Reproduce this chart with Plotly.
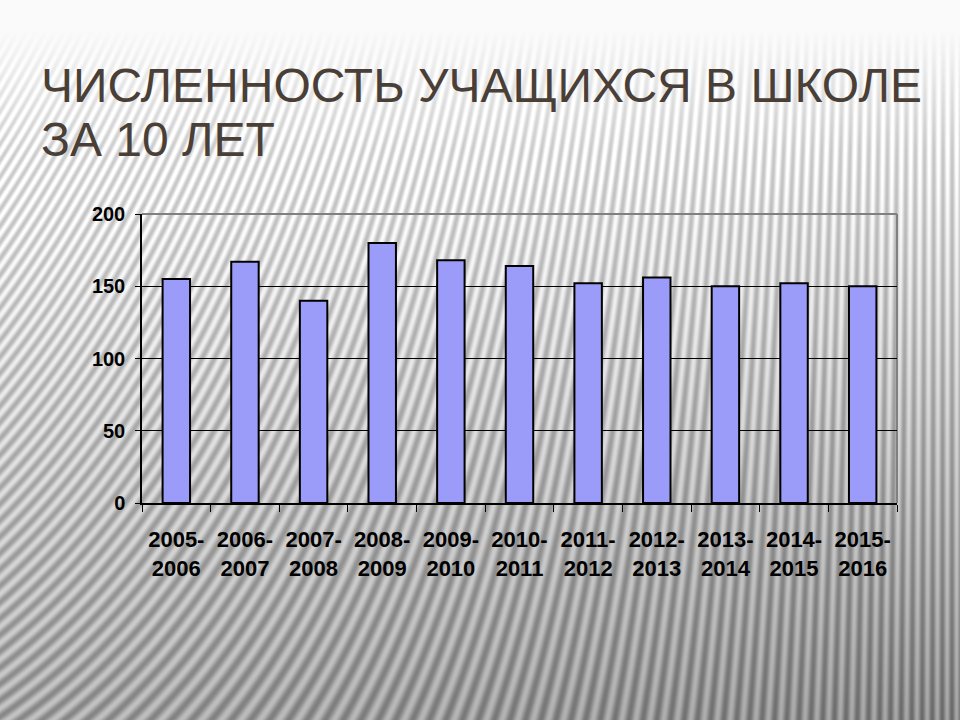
import base64
import struct
import zlib

import numpy as np
import plotly.graph_objects as go

categories = ["2005-<br>2006", "2006-<br>2007", "2007-<br>2008", "2008-<br>2009", "2009-<br>2010",
              "2010-<br>2011", "2011-<br>2012", "2012-<br>2013", "2013-<br>2014", "2014-<br>2015",
              "2015-<br>2016"]
students = [155, 167, 140, 180, 168, 164, 152, 156, 150, 152, 150]
y_ticks = [0, 50, 100, 150, 200]

title_line1 = "ЧИСЛЕННОСТЬ УЧАЩИХСЯ В ШКОЛЕ"
title_line2 = "ЗА 10 ЛЕТ"

W, H = 960, 720
ML, MR, MT, MB = 142, 63, 214, 217


def striped_background(w, h):
    yy, xx = np.mgrid[0:h, 0:w].astype(float)
    fy = np.clip((yy - 30) / (h - 30), 0, 1)
    base = 250 - 85 * fy - 30 * fy * (xx / w)
    k = 0.55 * (1 - xx / w) ** 1.5
    phase = (xx + k * yy) * 2 * np.pi / 9.0
    amp = 30 * np.clip((yy - 30) / 120, 0, 1)
    img = np.clip(base + amp * np.sin(phase), 0, 255).astype(np.uint8)
    raw = b"".join(b"\x00" + img[r].tobytes() for r in range(h))

    def chunk(tag, data):
        c = struct.pack(">I", len(data)) + tag + data
        return c + struct.pack(">I", zlib.crc32(tag + data) & 0xFFFFFFFF)

    png = b"\x89PNG\r\n\x1a\n" + chunk(b"IHDR", struct.pack(">IIBBBBB", w, h, 8, 0, 0, 0, 0))
    png += chunk(b"IDAT", zlib.compress(raw, 9)) + chunk(b"IEND", b"")
    return "data:image/png;base64," + base64.b64encode(png).decode()


pw = W - ML - MR
ph = H - MT - MB

fig = go.Figure()
fig.add_trace(go.Bar(
    x=categories, y=students,
    marker=dict(color="#9b9bf9", line=dict(color="black", width=2)),
    showlegend=False,
))

narrow = "Liberation Sans Narrow, Arial Narrow, Liberation Sans, Arial, sans-serif"
title_font = dict(family="Liberation Sans, Arial, sans-serif", size=48, color="#4a3f37")

fig.update_layout(
    width=W, height=H,
    margin=dict(l=ML, r=MR, t=MT, b=MB),
    paper_bgcolor="#d2d2d2",
    plot_bgcolor="rgba(0,0,0,0)",
    bargap=0.6,
    images=[dict(source=striped_background(W, H), xref="paper", yref="paper",
                 x=-ML / pw, y=1 + MT / ph, sizex=W / pw, sizey=H / ph,
                 xanchor="left", yanchor="top", sizing="stretch", layer="below")],
    xaxis=dict(
        type="category", showgrid=False, tickangle=0,
        showline=True, linecolor="black", linewidth=1.5,
        ticks="outside", tickson="boundaries", ticklen=7, tickcolor="black", tickwidth=1,
        ticklabelstandoff=16,
        tickfont=dict(family=narrow, size=22, color="black", weight="bold"),
    ),
    yaxis=dict(
        range=[0, 200], tickvals=y_ticks,
        showgrid=True, gridcolor="black", gridwidth=1.2,
        showline=True, linecolor="black", linewidth=1.5,
        ticks="outside", ticklen=5, tickcolor="black",
        ticklabelstandoff=6,
        tickfont=dict(family=narrow, size=20, color="black", weight="bold"),
        zeroline=False,
    ),
    shapes=[
        dict(type="line", xref="paper", yref="paper", x0=0, x1=1, y0=1, y1=1,
             line=dict(color="#808080", width=2), layer="below"),
        dict(type="line", xref="paper", yref="paper", x0=1, x1=1, y0=0, y1=1,
             line=dict(color="#808080", width=2), layer="below"),
    ],
    annotations=[
        dict(text=title_line1, xref="paper", yref="paper", x=-103 / pw, y=1.0,
             xanchor="left", yanchor="bottom", showarrow=False, yshift=100,
             font=title_font),
        dict(text=title_line2, xref="paper", yref="paper", x=-103 / pw, y=1.0,
             xanchor="left", yanchor="bottom", showarrow=False, yshift=46,
             font=title_font),
    ],
)

fig.write_html("out.html", config={"displayModeBar": False},
               post_script="document.body.style.margin='0';")
